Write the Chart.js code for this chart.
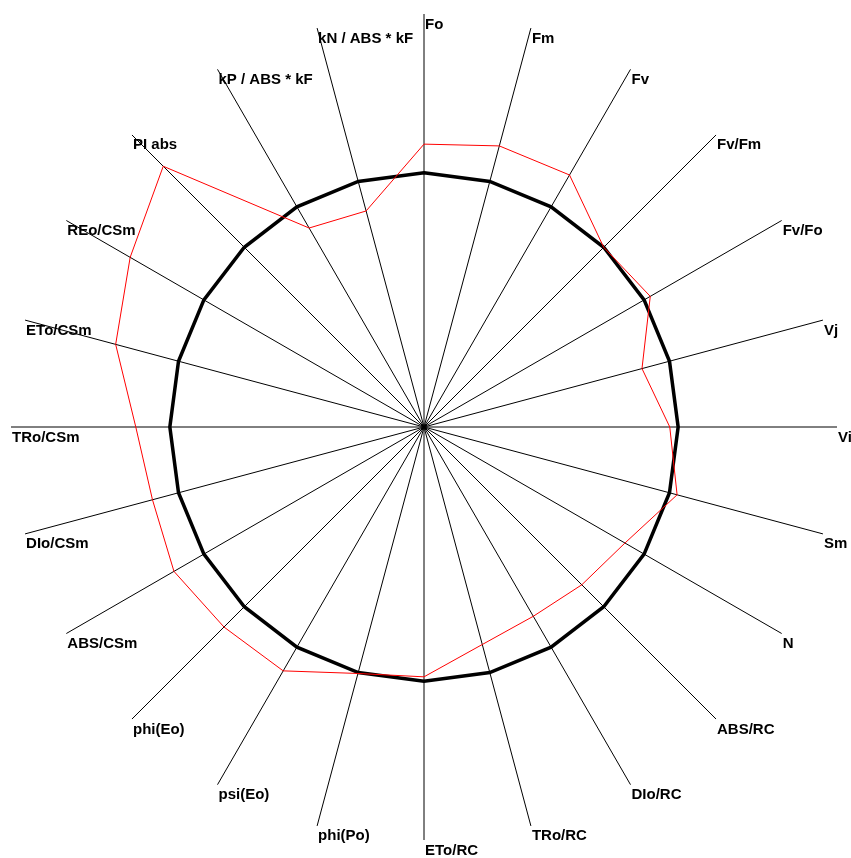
<!DOCTYPE html>
<html>
<head>
<meta charset="utf-8">
<script src="https://cdn.jsdelivr.net/npm/chart.js@4"></script>
<style>
  html, body { margin: 0; padding: 0; background: #fff; }
  #wrap { position: relative; width: 851px; height: 858px; }
</style>
</head>
<body>
<div id="wrap"><canvas id="c" width="851" height="858"></canvas></div>
<script>
const categories = ["Fo", "Fm", "Fv", "Fv/Fm", "Fv/Fo", "Vj", "Vi", "Sm", "N", "ABS/RC", "DIo/RC", "TRo/RC",
  "ETo/RC", "phi(Po)", "psi(Eo)", "phi(Eo)", "ABS/CSm", "DIo/CSm", "TRo/CSm", "ETo/CSm", "REo/CSm", "PI abs",
  "kP / ABS * kF", "kN / ABS * kF"];
const sampleValues = [1.113, 1.145, 1.145, 1.0, 1.028, 0.888, 0.967, 1.031, 0.913, 0.878, 0.860, 0.886,
  0.983, 1.004, 1.108, 1.113, 1.136, 1.106, 1.134, 1.256, 1.335, 1.451, 0.904, 0.880];
const referenceValues = [1, 1, 1, 1, 1, 1, 1, 1, 1, 1, 1, 1, 1, 1, 1, 1, 1, 1, 1, 1, 1, 1, 1, 1];
const scaleMax = 1.625;

const labelPlugin = {
  id: 'spokeLabels',
  afterDraw(chart) {
    const scale = chart.scales.r;
    const ctx = chart.ctx;
    ctx.save();
    ctx.font = 'bold 15px "Liberation Sans", Arial, sans-serif';
    ctx.fillStyle = '#000';
    ctx.textAlign = 'left';
    ctx.textBaseline = 'alphabetic';
    const dist = scale.getDistanceFromCenterForValue(scaleMax);
    categories.forEach((lab, i) => {
      const p = scale.getPointPosition(i, dist);
      ctx.fillText(lab, p.x + 1, p.y + 14.5);
    });
    ctx.restore();
  }
};

new Chart(document.getElementById('c'), {
  type: 'radar',
  data: {
    labels: categories,
    datasets: [
      { label: 'sample', data: sampleValues, borderColor: '#ff0000', borderWidth: 1, fill: false,
        pointRadius: 0, pointHoverRadius: 0, tension: 0 },
      { label: 'reference', data: referenceValues, borderColor: '#000000', borderWidth: 3.5, fill: false,
        pointRadius: 0, pointHoverRadius: 0, tension: 0, borderJoinStyle: 'miter' }
    ]
  },
  options: {
    responsive: false,
    animation: false,
    events: [],
    layout: { padding: { left: 11, top: 14, right: 14, bottom: 18 } },
    plugins: { legend: { display: false }, tooltip: { enabled: false } },
    scales: {
      r: {
        min: 0,
        max: scaleMax,
        ticks: { display: false },
        grid: { display: false },
        pointLabels: { display: false },
        angleLines: { display: true, color: '#000', lineWidth: 1 }
      }
    }
  },
  plugins: [labelPlugin]
});
</script>
</body>
</html>
